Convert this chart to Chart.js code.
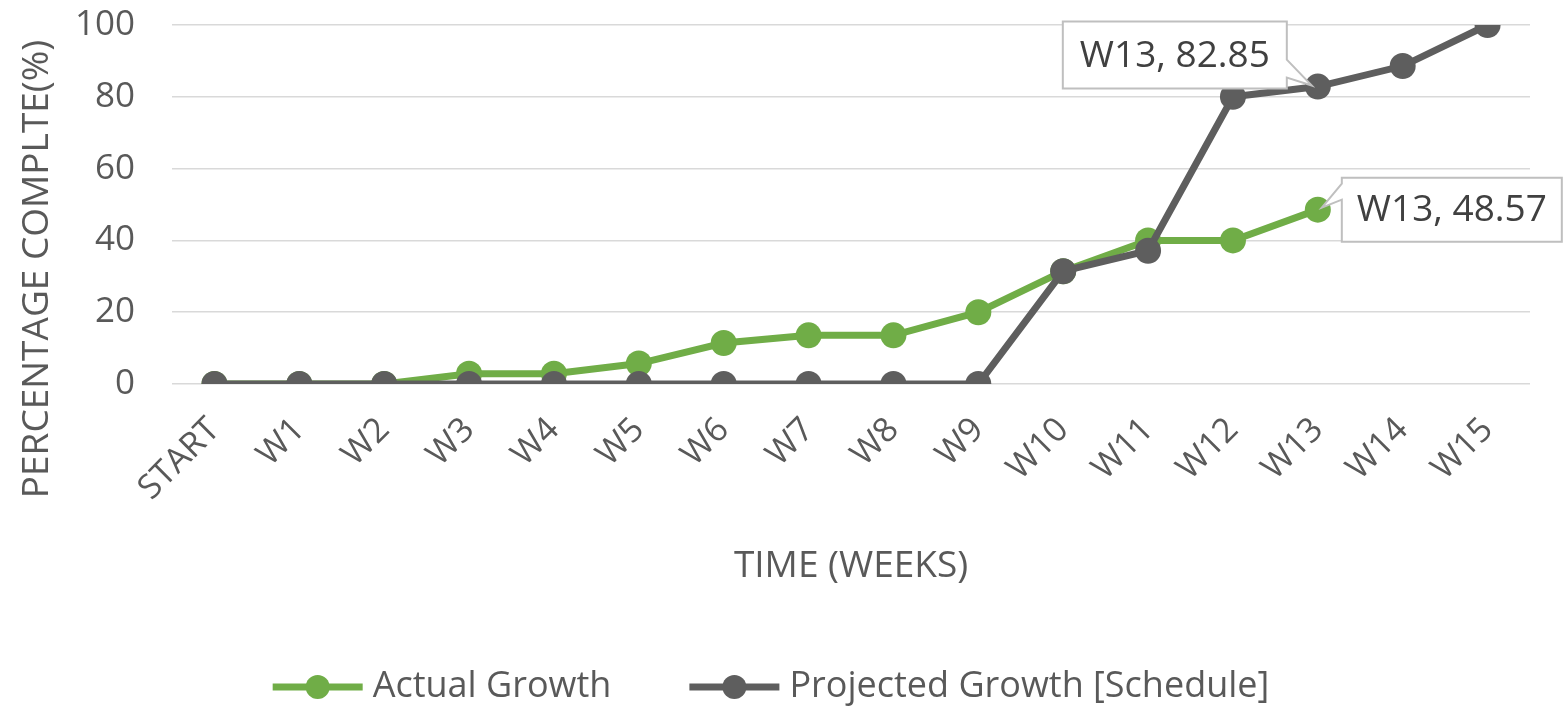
<!DOCTYPE html>
<html>
<head>
<meta charset="utf-8">
<script src="https://cdn.jsdelivr.net/npm/chart.js@4.4.0/dist/chart.umd.min.js"></script>
<style>
  html, body { margin: 0; background: #fff; }
</style>
</head>
<body>
<canvas id="chart" width="1566" height="706"></canvas>
<script>
// weeks on the x axis
const weeks = ["START", "W1", "W2", "W3", "W4", "W5", "W6", "W7", "W8", "W9", "W10", "W11", "W12", "W13", "W14", "W15"];
// percentage complete
const actualGrowth = [0, 0, 0, 2.86, 2.86, 5.71, 11.43, 13.57, 13.57, 20, 31.43, 40, 40, 48.57];
const projectedGrowth = [0, 0, 0, 0, 0, 0, 0, 0, 0, 0, 31.43, 37.14, 80, 82.85, 88.57, 100];
const yTicks = [0, 20, 40, 60, 80, 100];

const GREEN = "#70AD47";
const GREY = "#5E5E5E";
const TEXT = "#595959";
const FONT = "'Open Sans', sans-serif";

// callout boxes: which point, and where the box sits relative to it
const callouts = [
    { ds: 1, idx: 13, dx: -255, dy: -65, w: 224, h: 67, side: "right", wedge: [38, 56], tip: [-6, -1] },
    { ds: 0, idx: 13, dx: 24, dy: -32, w: 220, h: 64, side: "left", wedge: [6, 22], tip: [4, -2] }
];

const extras = {
    id: "extras",
    afterDatasetsDraw(chart) {
        const ctx = chart.ctx;
        callouts.forEach(c => {
            const pt = chart.getDatasetMeta(c.ds).data[c.idx];
            const value = chart.data.datasets[c.ds].data[c.idx];
            const text = weeks[c.idx] + ", " + value;
            const l = pt.x + c.dx, t = pt.y + c.dy, r = l + c.w, b = t + c.h;
            const tx = pt.x + c.tip[0], ty = pt.y + c.tip[1];
            ctx.save();
            ctx.beginPath();
            ctx.moveTo(l, t);
            ctx.lineTo(r, t);
            if (c.side === "right") {
                ctx.lineTo(r, t + c.wedge[0]);
                ctx.lineTo(tx, ty);
                ctx.lineTo(r, t + c.wedge[1]);
            }
            ctx.lineTo(r, b);
            ctx.lineTo(l, b);
            if (c.side === "left") {
                ctx.lineTo(l, t + c.wedge[1]);
                ctx.lineTo(tx, ty);
                ctx.lineTo(l, t + c.wedge[0]);
            }
            ctx.closePath();
            ctx.fillStyle = "#fff";
            ctx.fill();
            ctx.strokeStyle = "#BFBFBF";
            ctx.lineWidth = 2;
            ctx.stroke();
            ctx.fillStyle = "#404040";
            ctx.font = "37px " + FONT;
            ctx.textAlign = "center";
            ctx.textBaseline = "middle";
            ctx.fillText(text, (l + r) / 2, (t + b) / 2 + 1);
            ctx.restore();
        });
    },
    afterDraw(chart) {
        const ctx = chart.ctx;
        // y axis title, centred like the original (not on the plot area)
        ctx.save();
        ctx.translate(37, 269);
        ctx.rotate(-Math.PI / 2);
        ctx.fillStyle = TEXT;
        ctx.font = "37px " + FONT;
        ctx.textAlign = "center";
        ctx.textBaseline = "middle";
        ctx.fillText("PERCENTAGE COMPLTE(%)", 0, 0);
        ctx.restore();

        // legend: line with a dot, then the series name
        ctx.save();
        ctx.font = "36px " + FONT;
        ctx.textBaseline = "middle";
        const lineW = 90, textGap = 10, itemGap = 78, y = 687;
        const items = chart.data.datasets.map(ds => ({ ds, tw: ctx.measureText(ds.label).width }));
        const total = items.reduce((s, it) => s + lineW + textGap + it.tw, 0) + itemGap * (items.length - 1);
        let x = chart.width / 2 - 12 - total / 2;
        items.forEach(it => {
            ctx.strokeStyle = it.ds.borderColor;
            ctx.lineWidth = 7;
            ctx.beginPath(); ctx.moveTo(x, y); ctx.lineTo(x + lineW, y); ctx.stroke();
            ctx.fillStyle = it.ds.borderColor;
            ctx.beginPath(); ctx.arc(x + lineW / 2, y, 12, 0, Math.PI * 2); ctx.fill();
            ctx.fillStyle = TEXT;
            ctx.fillText(it.ds.label, x + lineW + textGap, y);
            x += lineW + textGap + it.tw + itemGap;
        });
        ctx.restore();
    }
};

new Chart(document.getElementById("chart"), {
    type: "line",
    data: {
        labels: weeks,
        datasets: [{
            label: "Actual Growth",
            data: actualGrowth,
            borderColor: GREEN,
            backgroundColor: GREEN,
            borderWidth: 7,
            pointRadius: 13,
            pointBorderWidth: 0,
            order: 1
        }, {
            label: "Projected Growth [Schedule]",
            data: projectedGrowth,
            borderColor: GREY,
            backgroundColor: GREY,
            borderWidth: 7,
            pointRadius: 13,
            pointBorderWidth: 0,
            order: 0
        }]
    },
    options: {
        responsive: false,
        animation: false,
        layout: { padding: { top: 25, right: 36, left: 0, bottom: 117 } },
        plugins: {
            tooltip: { enabled: false },
            legend: { display: false }
        },
        scales: {
            x: {
                offset: true,
                grid: { display: false },
                border: { display: false },
                ticks: {
                    color: TEXT,
                    font: { family: FONT, size: 34 },
                    minRotation: 45,
                    maxRotation: 45,
                    padding: 18
                },
                title: {
                    display: true,
                    text: "TIME (WEEKS)",
                    color: TEXT,
                    font: { family: FONT, size: 37 },
                    padding: { top: 18, bottom: 0 }
                }
            },
            y: {
                min: 0,
                max: 100,
                afterBuildTicks: scale => { scale.ticks = yTicks.map(v => ({ value: v })); },
                afterFit: scale => {
                    scale.width = 172;
                    scale.paddingTop = 0;
                    scale.paddingBottom = 0;
                },
                grid: { color: "#D9D9D9", lineWidth: 1.5, drawTicks: false },
                border: { display: false },
                ticks: {
                    color: TEXT,
                    font: { family: FONT, size: 35 },
                    padding: 37
                }
            }
        }
    },
    plugins: [extras]
});
</script>
</body>
</html>
